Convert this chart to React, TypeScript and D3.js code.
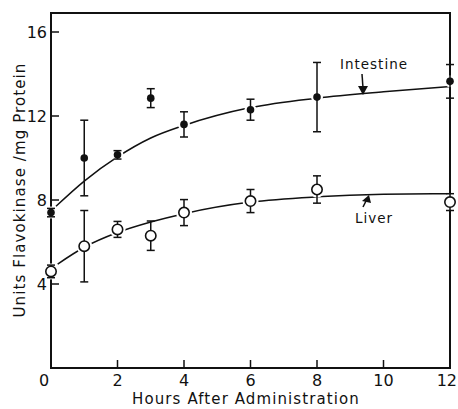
import React from "react";
import * as d3 from "d3";

const hours = [0, 1, 2, 3, 4, 6, 8, 12];
const intestineMean = [7.4, 10.0, 10.15, 12.85, 11.6, 12.3, 12.9, 13.65];
const intestineErr = [0.2, 1.8, 0.2, 0.45, 0.6, 0.5, 1.65, 0.8];
const liverMean = [4.6, 5.8, 6.6, 6.3, 7.4, 7.95, 8.5, 7.9];
const liverErr = [0.3, 1.7, 0.38, 0.7, 0.62, 0.55, 0.65, 0.4];

const intestineCurveX = [0.15, 1, 2, 3, 4, 6, 8, 10, 12];
const intestineCurveY = [7.7, 8.9, 10.05, 10.95, 11.55, 12.4, 12.85, 13.15, 13.4];
const liverCurveX = [0.2, 1, 2, 3, 4, 6, 8, 10, 12];
const liverCurveY = [4.95, 5.75, 6.45, 6.95, 7.35, 7.9, 8.15, 8.27, 8.3];

const xTicks = [2, 4, 6, 8, 10, 12];
const yTicks = [4, 8, 12, 16];

const W = 458;
const H = 409;
const left = 51;
const right = 450;
const top = 13;
const bottom = 368;

export default function App() {
  const x = d3.scaleLinear().domain([0, 12]).range([left, right]);
  const y = d3.scaleLinear().domain([0, 16]).range([bottom, bottom - 16 * 21]);
  const line = d3
    .line<[number, number]>()
    .x((d) => x(d[0]))
    .y((d) => y(d[1]))
    .curve(d3.curveMonotoneX);
  const iPts = intestineCurveX.map((v, i) => [v, intestineCurveY[i]] as [number, number]);
  const lPts = liverCurveX.map((v, i) => [v, liverCurveY[i]] as [number, number]);
  const font = "'DejaVu Sans', 'Liberation Sans', sans-serif";
  const stroke = "#111";

  const errBars = (means: number[], errs: number[]) =>
    hours.map((h, i) => {
      const cx = x(h);
      const y1 = y(means[i] + errs[i]);
      const y2 = y(means[i] - errs[i]);
      return (
        <g key={i} stroke={stroke} strokeWidth={1.5}>
          <line x1={cx} x2={cx} y1={y1} y2={y2} />
          <line x1={cx - 4} x2={cx + 4} y1={y1} y2={y1} />
          <line x1={cx - 4} x2={cx + 4} y1={y2} y2={y2} />
        </g>
      );
    });

  return (
    <svg
      width={W}
      height={H}
      style={{ position: "absolute", left: 0, top: 0, display: "block", background: "#fff" }}
    >
      <rect x={0} y={0} width={W} height={H} fill="#fff" />
      <rect x={left} y={top} width={right - left} height={bottom - top} fill="none" stroke={stroke} strokeWidth={2} />
      {xTicks.slice(0, 5).map((t) => (
        <line key={t} x1={x(t)} x2={x(t)} y1={bottom} y2={bottom - 8} stroke={stroke} strokeWidth={1.5} />
      ))}
      {yTicks.map((t) => (
        <line key={t} x1={left} x2={left + 8} y1={y(t)} y2={y(t)} stroke={stroke} strokeWidth={1.5} />
      ))}
      <text x={44} y={386} fontFamily={font} fontSize={16} textAnchor="middle" fill={stroke}>0</text>
      {xTicks.map((t) => (
        <text
          key={t}
          x={t === 12 ? 457 : x(t)}
          y={386}
          fontFamily={font}
          fontSize={16}
          textAnchor={t === 12 ? "end" : "middle"}
          fill={stroke}
        >
          {t}
        </text>
      ))}
      {yTicks.map((t) => (
        <text key={t} x={47} y={y(t) + 6} fontFamily={font} fontSize={16} textAnchor="end" fill={stroke}>
          {t}
        </text>
      ))}
      <text x={246} y={404} fontFamily={font} fontSize={15} textAnchor="middle" letterSpacing={1.1} fill={stroke}>
        Hours After Administration
      </text>
      <text
        transform={`translate(25,190) rotate(-90)`}
        fontFamily={font}
        fontSize={15}
        textAnchor="middle"
        letterSpacing={1.1}
        fill={stroke}
      >
        Units Flavokinase /mg Protein
      </text>
      <path d={line(iPts) || ""} fill="none" stroke={stroke} strokeWidth={1.5} />
      <path d={line(lPts) || ""} fill="none" stroke={stroke} strokeWidth={1.5} />
      {hours.map((h, i) => (
        <circle key={"hi" + i} cx={x(h)} cy={y(intestineMean[i])} r={6} fill="#fff" />
      ))}
      {hours.map((h, i) => (
        <circle key={"hl" + i} cx={x(h)} cy={y(liverMean[i])} r={8} fill="#fff" />
      ))}
      {errBars(intestineMean, intestineErr)}
      {errBars(liverMean, liverErr)}
      {hours.map((h, i) => (
        <circle key={"mi" + i} cx={x(h)} cy={y(intestineMean[i])} r={3.8} fill={stroke} />
      ))}
      {hours.map((h, i) => (
        <circle key={"ml" + i} cx={x(h)} cy={y(liverMean[i])} r={5.2} fill="#fff" stroke={stroke} strokeWidth={1.6} />
      ))}
      <text x={374} y={69} fontFamily={font} fontSize={13.5} textAnchor="middle" letterSpacing={1} fill={stroke}>
        Intestine
      </text>
      <line x1={362} y1={74} x2={363} y2={88} stroke={stroke} strokeWidth={1.5} />
      <path d="M358,86 L368,86 L363,95 Z" fill={stroke} />
      <text x={374} y={223} fontFamily={font} fontSize={13.5} textAnchor="middle" letterSpacing={1} fill={stroke}>
        Liver
      </text>
      <line x1={363} y1={207} x2={366} y2={201} stroke={stroke} strokeWidth={1.5} />
      <path d="M362,201 L371,203 L369,195 Z" fill={stroke} />
    </svg>
  );
}
